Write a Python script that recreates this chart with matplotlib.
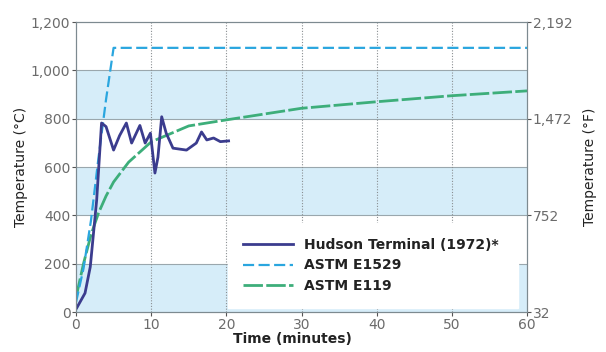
import matplotlib.pyplot as plt
import numpy as np

# time (minutes) and temperature (deg C)
hudson_t = [0.1, 1.2, 1.9, 2.75, 3.4, 4.0, 5.0, 5.8, 6.7, 7.4, 8.5, 9.2, 9.9, 10.5, 10.9,
            11.4, 12.0, 12.9, 14.7, 16.0, 16.7, 17.4, 18.3, 19.2, 20.3]
hudson_T = [17, 78, 187, 463, 782, 767, 670, 730, 782, 699, 772, 699, 740, 575, 640,
            808, 740, 678, 670, 699, 745, 712, 720, 705, 708]

e1529_t = [0, 1, 2, 3, 4, 5, 60]
e1529_T = [40, 180, 380, 640, 880, 1093, 1093]

e119_t = [0, 1, 2, 3, 4, 5, 7, 10, 15, 20, 30, 40, 50, 60]
e119_T = [60, 200, 320, 410, 480, 538, 620, 704, 770, 795, 843, 870, 895, 915]

c_ticks = [0, 200, 400, 600, 800, 1000, 1200]
f_ticks = [0, 400, 800, 1200]
f_labels = ['32', '752', '1,472', '2,192']

band = '#d6edf9'
grey = '#6b6b6b'

fig = plt.figure(figsize=(6.06, 3.52), dpi=100)
ax = fig.add_axes([0.1254, 0.1136, 0.7443, 0.8239])

# shaded bands
for lo in [0, 400, 800]:
    ax.axhspan(lo, lo + 200, color=band, zorder=0, lw=0)
for y in c_ticks[1:-1]:
    ax.axhline(y, color='#9aa7ad', lw=0.8, zorder=1)
for x in [10, 20, 30, 40, 50]:
    ax.axvline(x, color='#8a8f92', lw=0.8, ls=(0, (1, 1.5)), zorder=1)

ax.plot(e119_t, e119_T, color='#3dae7a', lw=2, ls=(0, (7, 1.2)), label='ASTM E119', zorder=3)
ax.plot(e1529_t, e1529_T, color='#2aa6df', lw=1.6, ls=(0, (5, 2)), label='ASTM E1529', zorder=4)
ax.plot(hudson_t, hudson_T, color='#3b3c8e', lw=2, label='Hudson Terminal (1972)*', zorder=5)

ax.set_xlim(0, 60)
ax.set_ylim(0, 1200)
ax.set_xticks([0, 10, 20, 30, 40, 50, 60])
ax.set_yticks(c_ticks)
ax.set_yticklabels(['{:,}'.format(v) for v in c_ticks])
ax.tick_params(colors='#555555', labelcolor=grey, labelsize=10, length=3, pad=1)
for s in ax.spines.values():
    s.set_color('#7d8a90')
ax.set_xlabel('Time (minutes)', fontsize=10, fontweight='bold', color='#222222', labelpad=0, x=0.48)
ax.set_ylabel('Temperature (°C)', fontsize=10, color='#222222', labelpad=2)

ax2 = ax.twinx()
ax2.set_ylim(0, 1200)
ax2.set_yticks(f_ticks)
ax2.set_yticklabels(f_labels)
ax2.tick_params(colors='#555555', labelcolor=grey, labelsize=10, length=3, pad=1)
for s in ax2.spines.values():
    s.set_color('#7d8a90')
ax2.set_ylabel('Temperature (°F)', fontsize=10, color='#222222', labelpad=8)

h, l = ax.get_legend_handles_labels()
leg = ax.legend(h[::-1], l[::-1], loc='lower left', bbox_to_anchor=(0.337, 0.014, 0.643, 0.3),
                mode='expand', frameon=True, fancybox=False, borderaxespad=0,
                handlelength=3.6, labelspacing=0.45, borderpad=1.1,
                prop={'size': 10, 'weight': 'bold'})
leg.get_frame().set_edgecolor('white')
leg.get_frame().set_alpha(1)
for t in leg.get_texts():
    t.set_color('#222222')

fig.savefig('out.png', dpi=100)
